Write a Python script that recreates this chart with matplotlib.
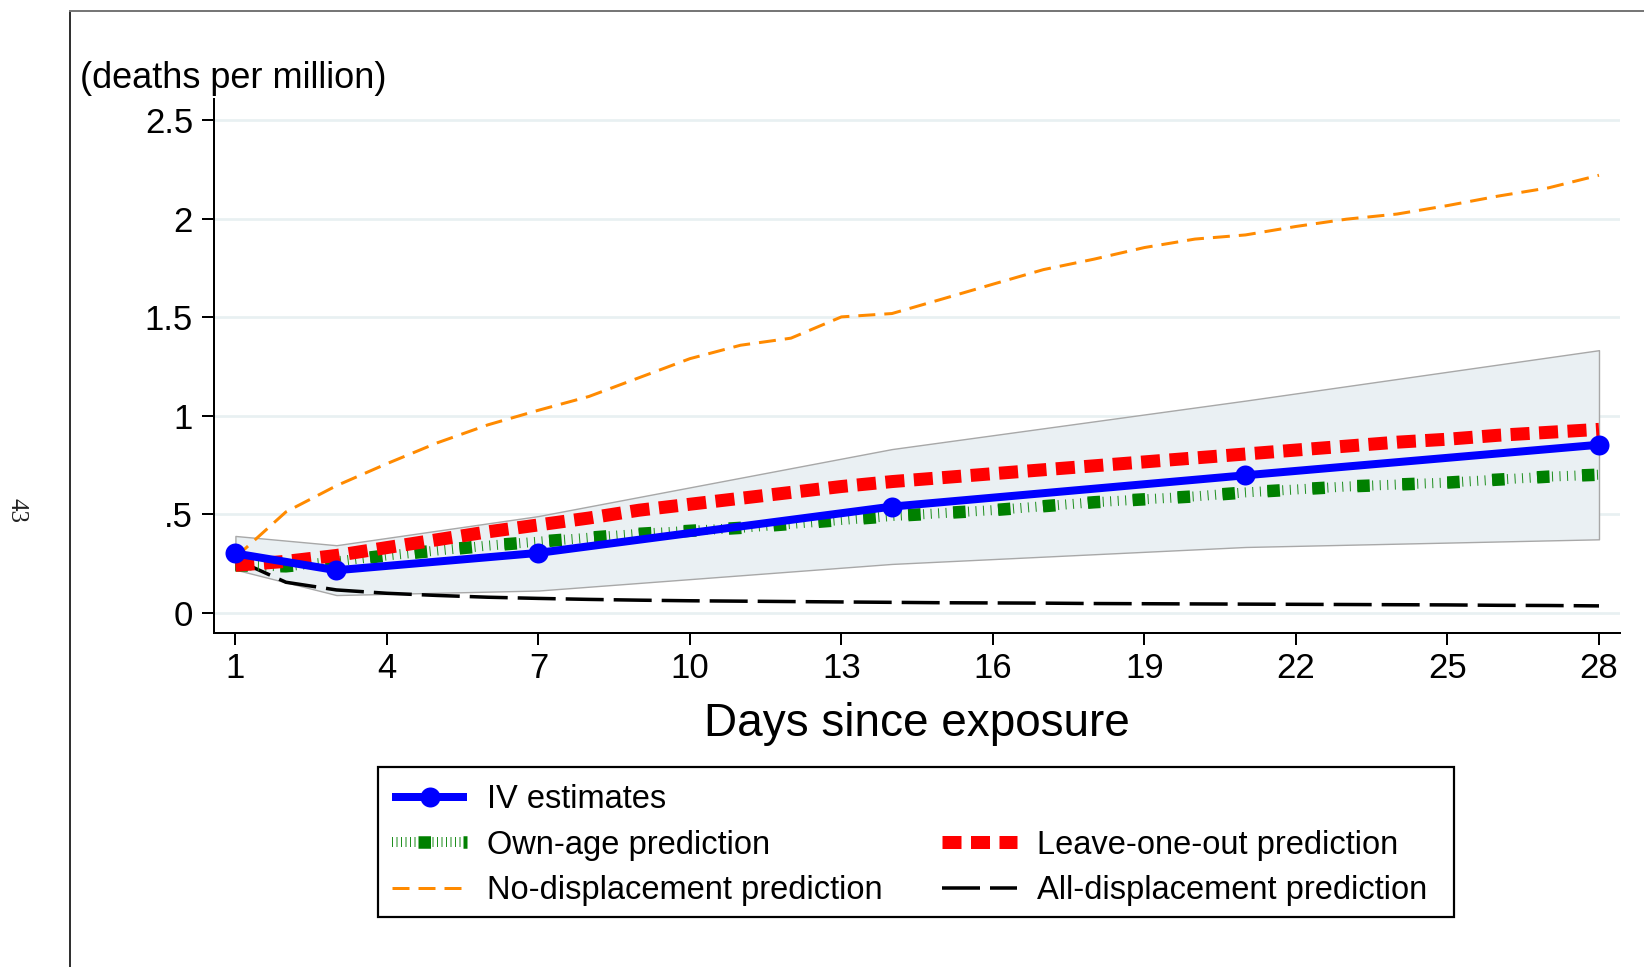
#!/usr/bin/env python3
import matplotlib as mp
mp.use('Agg')
import matplotlib.pyplot as plt
from matplotlib.lines import Line2D
from matplotlib.patches import Rectangle
from matplotlib.legend_handler import HandlerTuple

plt.rcParams['font.family'] = ['Liberation Sans', 'DejaVu Sans']
plt.rcParams['lines.scale_dashes'] = False

# data
days = list(range(1, 29))
iv_days = [1, 3, 7, 14, 21, 28]
iv_est = [0.300, 0.215, 0.303, 0.538, 0.697, 0.852]
ci_upper = [0.389, 0.342, 0.490, 0.830, 1.076, 1.332]
ci_lower = [0.218, 0.089, 0.112, 0.247, 0.333, 0.372]

own_age = [0.24, 0.235, 0.26, 0.29, 0.315, 0.34, 0.36, 0.38, 0.40, 0.415,
           0.43, 0.45, 0.47, 0.49, 0.505, 0.52, 0.54, 0.56, 0.575, 0.59,
           0.61, 0.625, 0.64, 0.65, 0.66, 0.675, 0.69, 0.70]
leave_one_out = [0.24, 0.26, 0.29, 0.33, 0.37, 0.41, 0.445, 0.48, 0.52, 0.55,
                 0.58, 0.61, 0.64, 0.665, 0.685, 0.705, 0.725, 0.745, 0.765, 0.785,
                 0.805, 0.825, 0.845, 0.865, 0.88, 0.90, 0.915, 0.93]
no_disp = [0.28, 0.511, 0.644, 0.756, 0.862, 0.953, 1.027, 1.097, 1.193, 1.289,
           1.357, 1.393, 1.501, 1.518, 1.592, 1.667, 1.741, 1.794, 1.853, 1.896,
           1.917, 1.960, 1.997, 2.023, 2.066, 2.114, 2.156, 2.220]
all_disp = [0.27, 0.154, 0.115, 0.098, 0.087, 0.078, 0.072, 0.067, 0.063, 0.060,
            0.058, 0.056, 0.054, 0.052, 0.050, 0.049, 0.048, 0.046, 0.045, 0.044,
            0.043, 0.042, 0.041, 0.040, 0.039, 0.037, 0.036, 0.034]

ytick_vals = [0, 0.5, 1, 1.5, 2, 2.5]
ytick_labels = ['0', '.5', '1', '1.5', '2', '2.5']
xtick_vals = [1, 4, 7, 10, 13, 16, 19, 22, 25, 28]

W, H = 1644, 967
PX = 0.72  # points per pixel at dpi 100

BLUE, RED, GREEN, TICKGREEN, ORANGE = '#0000ff', '#ff0000', '#008000', '#1f8f1f', '#ff8a00'

fig = plt.figure(figsize=(W / 100, H / 100), dpi=100)
ax = fig.add_axes([214 / W, 1 - 633 / H, (1620 - 214) / W, (633 - 99) / H])

ax.fill_between(iv_days, ci_lower, ci_upper, facecolor='#eaf0f3',
                edgecolor='#a8a8a8', linewidth=1.0, zorder=1)
ax.plot(days, all_disp, color='black', lw=3.5 * PX,
        dashes=(38 * PX, 10 * PX), zorder=2)
ax.plot(days, no_disp, color=ORANGE, lw=3 * PX,
        dashes=(17 * PX, 9 * PX), zorder=2)
ax.plot(days, own_age, color=TICKGREEN, lw=10 * PX,
        dashes=(1 * PX, 6.5 * PX), zorder=3)
ax.plot(days, own_age, color=GREEN, lw=12.5 * PX,
        dashes=(12.5 * PX, 32.5 * PX), zorder=3)
ax.plot(days, leave_one_out, color=RED, lw=13 * PX,
        dashes=(19 * PX, 9.5 * PX), zorder=4)
ax.plot(iv_days, iv_est, color=BLUE, lw=8 * PX, marker='o',
        markersize=20 * PX, markeredgewidth=0, solid_capstyle='butt', zorder=5)

ax.set_xlim(0.576, 28.416)
ax.set_ylim(-0.1036, 2.607)
ax.set_xticks(xtick_vals)
ax.set_yticks(ytick_vals)
ax.set_yticklabels(ytick_labels)
ax.tick_params(labelsize=25, length=12 * PX, width=2 * PX, color='black')
ax.tick_params(axis='y', pad=9 * PX)
ax.tick_params(axis='x', pad=7 * PX)
ax.grid(axis='y', color='#e8f0f2', lw=2.7 * PX)
ax.set_axisbelow(True)
for s in ['top', 'right']:
    ax.spines[s].set_visible(False)
for s in ['left', 'bottom']:
    ax.spines[s].set_linewidth(2 * PX)

fig.text(80 / W, 1 - 88 / H, '(deaths per million)', fontsize=26,
         ha='left', va='baseline')
fig.text(917 / W, 1 - 736 / H, 'Days since exposure', fontsize=33,
         ha='center', va='baseline')

# page frame and page number
fig.add_artist(Line2D([70 / W, 70 / W], [0, 1 - 11 / H], transform=fig.transFigure,
                      color='black', lw=1.6 * PX))
fig.add_artist(Line2D([70 / W, 1], [1 - 11 / H, 1 - 11 / H], transform=fig.transFigure,
                      color='#777777', lw=2 * PX))
fig.text(16 / W, 1 - 510 / H, '43', fontsize=18, rotation=-90,
         ha='center', va='center', family='Liberation Serif', color='#222222')

# legend (box drawn separately so it can be sized like the original)
h_iv = Line2D([], [], color=BLUE, lw=8 * PX, marker='o', markersize=20 * PX,
              markeredgewidth=0, solid_capstyle='butt')
h_own_ticks = Line2D([], [], color=TICKGREEN, lw=10 * PX,
                     linestyle=(0, (1 * PX, 3.5 * PX)))
h_own_sq = Line2D([], [], color=GREEN, lw=12.5 * PX,
                  linestyle=(19 * PX, (12.5 * PX, 32.5 * PX)))
h_loo = Line2D([], [], color=RED, lw=13 * PX, dashes=(19 * PX, 9.5 * PX))
h_nod = Line2D([], [], color=ORANGE, lw=3 * PX, dashes=(17 * PX, 9 * PX))
h_all = Line2D([], [], color='black', lw=3.5 * PX, dashes=(38 * PX, 10 * PX))
h_blank = Line2D([], [], linestyle='none')
handles = [h_iv, (h_own_ticks, h_own_sq), h_nod, h_blank, h_loo, h_all]
labels = ['IV estimates', 'Own-age prediction', 'No-displacement prediction',
          ' ', 'Leave-one-out prediction', 'All-displacement prediction']
fig.legend(handles, labels, loc='upper left',
           bbox_to_anchor=(392 / W, 1 - 784 / H), borderaxespad=0, borderpad=0,
           ncol=2, fontsize=23.5, handlelength=2.3, handletextpad=0.6,
           columnspacing=1.84, labelspacing=0.445, frameon=False,
           handler_map={tuple: HandlerTuple(ndivide=1, pad=0)})
fig.add_artist(Rectangle((378 / W, 1 - 917 / H), (1454 - 378) / W, (917 - 767) / H,
                         transform=fig.transFigure, fill=False,
                         edgecolor='black', lw=2.2 * PX))

plt.savefig('out.png', dpi=100)
